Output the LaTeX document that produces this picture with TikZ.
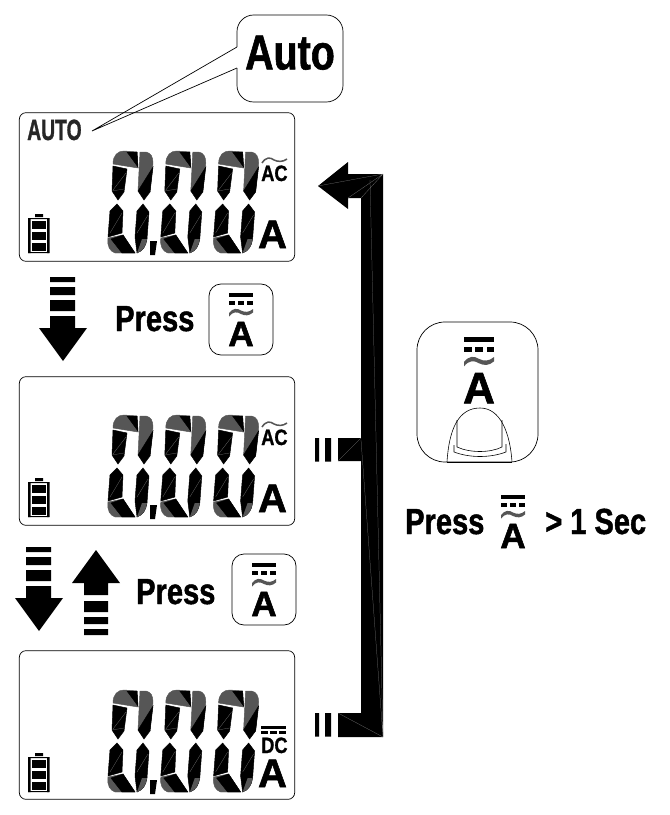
\documentclass[tikz,border=0pt]{standalone}
\usepackage{fontspec}
\setmainfont{Liberation Sans}
\newfontfamily\pressfont[FakeStretch=0.8,FakeBold=1.2]{Liberation Sans}
\newfontfamily\lcdfont[FakeStretch=0.66,FakeBold=1]{Liberation Sans}
\newfontfamily\modefont[FakeStretch=0.82,FakeBold=1]{Liberation Sans}
\newfontfamily\unitfont[FakeBold=1.5]{Liberation Sans}
\definecolor{lcdgray}{HTML}{565656}
\definecolor{lcdseam}{HTML}{777777}
\tikzset{
  lcdpanel/.style={draw, rounded corners=0.2cm, line width=0.6pt, minimum width=8.26cm, minimum height=4.46cm},
  keybox/.style={draw, rounded corners=0.36cm, line width=0.6pt, minimum width=1.92cm, minimum height=2.13cm},
  presslabel/.style={inner sep=0pt, anchor=base west, font=\pressfont\bfseries\fontsize{31}{31}\selectfont},
  modelabel/.style={inner sep=0pt, anchor=base west, font=\modefont\bfseries\fontsize{19}{19}\selectfont},
  unitlabel/.style={inner sep=0pt, anchor=base, font=\unitfont\bfseries\fontsize{34}{34}\selectfont},
  seam/.style={draw=lcdseam, line width=0.2pt},
  seg/.style={line width=0.4pt},
  pics/lcddigit/.style={code={
    % upper half
    \filldraw[seg, lcdgray] (13,19) .. controls (13,10) and (18,6) .. (24,6) -- (37,7) -- (38,23) -- cycle;
    \filldraw[seg] (27,7) -- (37,7) -- (38,22) -- cycle;
    \filldraw[seg, lcdgray] (40,7) -- (46,7) .. controls (51,8) and (53,12) .. (53,18) -- (50,47) -- (38,46) -- cycle;
    \filldraw[seg] (38,46) -- (53,22) -- (50,47) -- (44,55) -- cycle;
    \filldraw[seg] (13,21) -- (27,24) -- (24,47) -- (18,55) -- (12,46) -- cycle;
    % lower half
    \filldraw[seg] (17,59) -- (23,66) -- (22,88) -- (8,92) -- (10,66) -- cycle;
    \filldraw[seg] (43,59) -- (49,67) -- (47,94) .. controls (46,101) and (43,106) .. (37,108) -- (35,92) -- (37,66) -- cycle;
    \filldraw[seg, lcdgray] (8,93) -- (23,90) -- (35,108) -- (15,108) .. controls (10,106) and (7,102) .. (8,93) -- cycle;
    \filldraw[seg] (23,90) -- (35,108) -- (22,108) -- (11,94) -- cycle;
    \fill[lcdgray] (37,108) .. controls (43,106) and (46,101) .. (47,94) -- (42,94) -- cycle;
    \draw[seam] (13,45) -- (26,28) (10,88) -- (22,68) (37,88) -- (48,70) (12,46) -- (24,44);
  }},
  pics/rangemark/.style={code={
    % bar, three dots, wave and the letter
    \fill (0,0) rectangle (24,4);
    \foreach \dotx in {0,9,18} {\fill (\dotx,8) rectangle ++(6,4);}
    \fill[lcdgray] (0,20) .. controls (4,15) and (8,15) .. (12,17.5) .. controls (16,19.5) and (20,19.5) .. (24,16) -- (24,19.5) .. controls (20,23) and (16,23) .. (12,21) .. controls (8,18.5) and (4,18.5) .. (0,23.5) -- cycle;
    \node (markA) [transform shape, inner sep=0pt, anchor=base, font=\unitfont\bfseries\fontsize{30}{30}\selectfont] at (12,53) {A};
  }},
  pics/blockdown/.style={code={
    \fill (50,277) rectangle (75,282) (50,287) rectangle (75,295) (50,300) rectangle (75,311);
    \fill (50,316) -- (75,316) -- (75,328) -- (87,328) -- (63,361) -- (39,328) -- (50,328) -- cycle;
  }}
}
\begin{document}
\begin{tikzpicture}[x=0.03cm, y=-0.03cm]
  \useasboundingbox (0,0) rectangle (669,815);

  % Panels
  \node (lcdauto) [lcdpanel] at (157,187) {};
  \node (lcdac) [lcdpanel] at (157,451) {};
  \node (lcddc) [lcdpanel] at (157,725) {};

  \foreach \shifty in {0,264,539} {
    \foreach \shiftx in {0,52.8,105.6} {\pic at (100+\shiftx,145+\shifty) {lcddigit};}
    \fill (150,241+\shifty) -- (157,241+\shifty) -- (155,255+\shifty) -- (150,255+\shifty) -- cycle;
    % battery
    \fill (35,214+\shifty) rectangle (43,217+\shifty) (28,218+\shifty) rectangle (30.5,253+\shifty) (47,218+\shifty) rectangle (49.5,253+\shifty);
    \fill (28,218+\shifty) rectangle (49,219+\shifty) (28,252+\shifty) rectangle (49,253+\shifty);
    \foreach \celly in {221,232,243} {\fill (32,\celly+\shifty) rectangle (46,\celly+7.5+\shifty);}
  }
  \node (unitauto) [unitlabel] at (272.5,248) {A};
  \node (unitac) [unitlabel] at (272.5,512) {A};
  \node (unitdc) [unitlabel] at (272.5,787) {A};

  % Mode labels
  \node (autotext) [inner sep=0pt, anchor=base west, font=\lcdfont\bfseries\fontsize{25}{25}\selectfont, text=black!85] at (27,140) {AUTO};
  \node (acfirst) [modelabel] at (261,181) {AC};
  \node (acsecond) [modelabel] at (261,445) {AC};
  \node (dclabel) [modelabel] at (261,753) {DC};
  \foreach \wavey in {0,264} {
    \draw[lcdgray, line width=1.3pt] (262,163+\wavey) .. controls (266,157+\wavey) and (270,157+\wavey) .. (274,160+\wavey) .. controls (278,162+\wavey) and (283,162+\wavey) .. (287,159+\wavey);
  }
  \fill (261,726) rectangle (286,729);
  \foreach \dashx in {261,270,279} {\fill (\dashx,731) rectangle ++(7,3);}

  % Callout
  \node (autobox) [draw, rounded corners=0.5cm, line width=0.6pt, minimum width=3.18cm, minimum height=2.61cm, text depth=0.36cm, font=\pressfont\bfseries\fontsize{42}{42}\selectfont] at (290,58.5) {Auto};
  \coordinate (autotip) at (92,131);
  \coordinate (tailtop) at (237,47);
  \coordinate (tailbottom) at (237,68);
  \draw[white, line width=1.5pt] (tailtop) -- (tailbottom);
  \draw[line width=0.6pt] (tailtop) -- (autotip) -- (tailbottom);

  % Block arrows
  \pic at (0,0) {blockdown};
  \pic at (-24,270) {blockdown};
  \fill (96,550) -- (120,583) -- (108,583) -- (108,595) -- (84,595) -- (84,583) -- (72,583) -- cycle;
  \fill (84,601) rectangle (108,612) (84,617) rectangle (108,624) (84,629) rectangle (108,635);

  % Keys
  \node (pressone) [presslabel] at (115,331) {Press};
  \node (keyone) [keybox] at (241,319.5) {};
  \pic at (229,293) {rangemark};
  \node (presstwo) [presslabel] at (136,604) {Press};
  \node (keytwo) [keybox] at (264,589.5) {};
  \pic at (252,563) {rangemark};

  % Finger key
  \node (fingerkey) [draw, rounded corners=0.84cm, line width=0.6pt, minimum width=3.63cm, minimum height=4.2cm] at (477.5,392) {};
  \pic [scale=1.25] at (464,337) {rangemark};
  \draw[line width=0.5pt] (447,462) .. controls (449,430) and (458,408) .. (480,408) .. controls (500,408) and (510,432) .. (512,462);
  \draw[line width=0.5pt] (457,420) -- (457,447) .. controls (470,453) and (490,453) .. (502,447) -- (502,420);
  \draw[line width=0.5pt] (454,445) -- (454,452) .. controls (470,458) and (490,458) .. (506,452) -- (506,444);
  \draw[line width=0.8pt] (447,462) -- (512,462);

  % Hold label
  \node (presshold) [presslabel] at (405,534) {Press};
  \pic at (501,495) {rangemark};
  \node (holdtime) [presslabel] at (545,534) {> 1 Sec};

  % Return arrow
  \fill (318,186) -- (348,162) -- (348,174) -- (383,174) -- (383,737) -- (338,737) -- (338,713) -- (361,713) -- (361,461) -- (338,461) -- (338,438) -- (361,438) -- (361,198) -- (348,198) -- (348,209) -- cycle;
  \foreach \stuby in {438,713} {
    \fill (315,\stuby) rectangle (319,\stuby+23.5) (325,\stuby) rectangle (331,\stuby+23.5);
  }
  \draw[seam] (318,186) -- (383,174) (348,198) -- (383,174) (361,198) -- (383,174);
  \draw[seam] (361,440) -- (383,737) (370,180) -- (383,737) (338,713) -- (383,737) (338,461) -- (361,438);
\end{tikzpicture}
\end{document}
